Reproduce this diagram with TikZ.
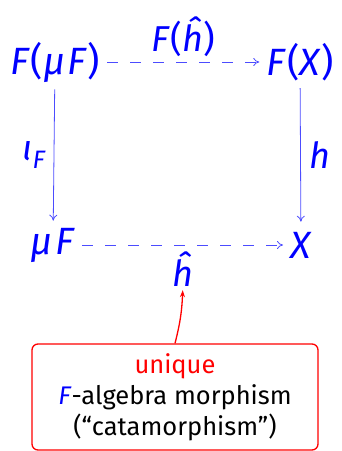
\documentclass[tikz,border=0pt]{standalone}
\usepackage{fontspec}
\setmainfont{Fira Sans}
\usetikzlibrary{arrows.meta}

\begin{document}
\begin{tikzpicture}[x=1pt,y=-1pt,
  obj/.style={text=blue,inner sep=7pt,font=\fontsize{38}{40}\selectfont},
  lbl/.style={text=blue,font=\fontsize{36}{38}\selectfont},
  dasharrow/.style={blue!70,line width=0.8pt,dash pattern=on 11pt off 12pt,-{To[length=6pt,width=8pt]}},
  maparrow/.style={blue!70,line width=0.8pt,-{To[length=6pt,width=8pt]}},
  note/.style={draw=red,line width=1.3pt,rounded corners=6pt,minimum width=286pt,minimum height=106pt,
    align=center,font=\fontsize{25.5}{31}\selectfont}]
  \useasboundingbox (0,0) rectangle (342,451);
  % Nodes
  \node[obj] (FmuF) at (55,62) {\textit{F}\kern1pt(\textit{μ\kern2.5pt F})};
  \node[obj] (FX) at (300,62) {\textit{F}\kern1pt(\textit{X})};
  \node[obj] (muF) at (53,245) {\textit{μ\kern2.5pt F}};
  \node[obj, inner ysep=10pt] (X) at (301,245) {\textit{X}};
  \node[note] (catabox) at (175,397) {\textcolor{red}{unique}\\\textcolor{blue}{\textit{F}}-algebra morphism\\(“catamorphism”)};

  % Edges
  \draw[dasharrow] (FmuF) -- node[lbl,above=2pt] (Fhhat) {\textit{F}\kern1pt(\textit{ĥ})} (FX);
  \draw[dasharrow] (muF) -- node[lbl,below=3pt] (hhat) {\textit{ĥ}} (X);
  \draw[maparrow] (FmuF) -- node[lbl,left=5pt] (iotaF) {\textit{ι\textsubscript{F}}} (muF);
  \draw[maparrow] (FX) -- node[lbl,right=5pt] (h) {\textit{h}} (X);
  \draw[red,line width=1.3pt,-{Stealth[length=7pt,width=5pt]}] (catabox.north) to[bend right=6] (hhat.south);
\end{tikzpicture}
\end{document}
